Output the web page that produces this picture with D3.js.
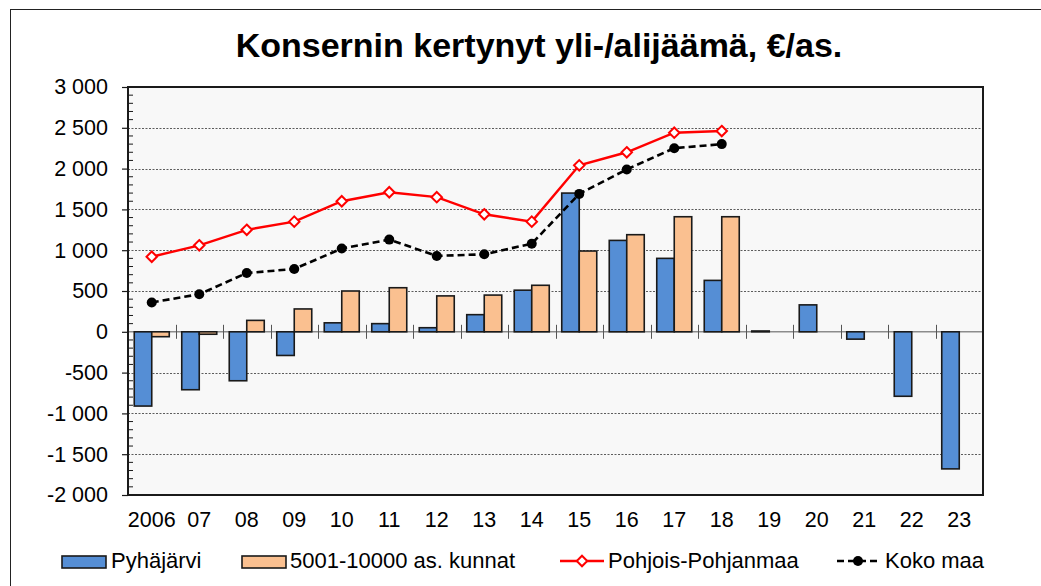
<html>
<head>
<meta charset="utf-8">
<title>Konsernin kertynyt yli-/alijäämä</title>
<script src="https://cdnjs.cloudflare.com/ajax/libs/d3/7.8.5/d3.min.js"></script>
<style>
    body { margin: 0; background: #fff; }
    text { font-family: Arial, "Liberation Sans", sans-serif; fill: #000; }
</style>
</head>
<body>
    <div id="vis_container"></div>
    <script>

        // categories and values
        var years = ["2006", "07", "08", "09", "10", "11", "12", "13", "14", "15", "16", "17", "18", "19", "20", "21", "22", "23"];
        var pyhajarvi = [-910, -710, -600, -290, 110, 100, 50, 210, 510, 1700, 1120, 900, 630, 10, 330, -90, -790, -1680];
        var kunnat = [-60, -30, 140, 280, 500, 540, 440, 450, 570, 990, 1190, 1410, 1410, null, null, null, null, null];
        var pohjois = [920, 1060, 1250, 1350, 1600, 1710, 1650, 1440, 1350, 2040, 2200, 2440, 2460];
        var kokoMaa = [360, 460, 720, 770, 1020, 1130, 930, 950, 1080, 1690, 1990, 2250, 2300];
        var yTicks = [3000, 2500, 2000, 1500, 1000, 500, 0, -500, -1000, -1500, -2000];
        var seriesNames = ["Pyhäjärvi", "5001-10000 as. kunnat", "Pohjois-Pohjanmaa", "Koko maa"];

        var width = 1041;
        var height = 586;
        var plot = {left: 128, top: 87, right: 983, bottom: 495};

        var svg = d3.select("#vis_container")
                        .append("svg")
                        .attr("width", width)
                        .attr("height", height);

        // outer chart frame
        svg.append("rect")
            .attr("x", 10.5).attr("y", 9.5)
            .attr("width", 1040).attr("height", 600)
            .attr("fill", "none")
            .attr("stroke", "#222")
            .attr("stroke-width", 1);

        svg.append("text")
            .attr("x", 539)
            .attr("y", 57)
            .attr("text-anchor", "middle")
            .style("font-size", "34px")
            .style("font-weight", "bold")
            .text("Konsernin kertynyt yli-/alijäämä, €/as.");

        var x = d3.scaleBand()
            .domain(years)
            .range([plot.left, plot.right])
            .padding(0);

        var sub = d3.scaleBand()
            .domain([0, 1])
            .range([0, x.bandwidth()])
            .paddingInner(0)
            .paddingOuter(0.357);

        var y = d3.scaleLinear()
            .domain([-2000, 3000])
            .range([plot.bottom, plot.top]);

        // plot area
        svg.append("rect")
            .attr("x", plot.left).attr("y", plot.top)
            .attr("width", plot.right - plot.left)
            .attr("height", plot.bottom - plot.top)
            .attr("fill", "#f8f8f8");

        // gridlines
        svg.append("g").selectAll("line")
            .data(yTicks.filter(function(d) { return d !== 0 && d !== 3000 && d !== -2000; }))
            .enter().append("line")
            .attr("x1", plot.left).attr("x2", plot.right)
            .attr("y1", function(d) { return Math.round(y(d)) + 0.5; })
            .attr("y2", function(d) { return Math.round(y(d)) + 0.5; })
            .attr("stroke", "#333")
            .attr("stroke-width", 0.8)
            .attr("stroke-dasharray", "2,1.5");

        // zero line
        svg.append("line")
            .attr("x1", plot.left).attr("x2", plot.right)
            .attr("y1", y(0)).attr("y2", y(0))
            .attr("stroke", "#8c8c8c")
            .attr("stroke-width", 1.5);

        // category separators on the zero line
        svg.append("g").selectAll("line")
            .data(years.slice(1))
            .enter().append("line")
            .attr("x1", function(d) { return Math.round(x(d)) + 0.5; })
            .attr("x2", function(d) { return Math.round(x(d)) + 0.5; })
            .attr("y1", y(0) - 7).attr("y2", y(0) + 7)
            .attr("stroke", "#555")
            .attr("stroke-width", 1);

        // bars
        var bars = svg.append("g");
        var barSeries = [
            {values: pyhajarvi, color: "#558ed5", i: 0},
            {values: kunnat, color: "#fac090", i: 1}
        ];
        barSeries.forEach(function(s) {
            bars.append("g").selectAll("rect")
                .data(s.values.map(function(v, k) { return {year: years[k], v: v}; })
                        .filter(function(d) { return d.v !== null; }))
                .enter().append("rect")
                .attr("x", function(d) { return x(d.year) + sub(s.i); })
                .attr("width", sub.bandwidth())
                .attr("y", function(d) { return y(Math.max(0, d.v)); })
                .attr("height", function(d) { return Math.abs(y(d.v) - y(0)); })
                .attr("fill", s.color)
                .attr("stroke", "#1a1a1a")
                .attr("stroke-width", 1.6);
        });

        // lines
        var cx = function(d, k) { return x(years[k]) + x.bandwidth() / 2; };

        var line = d3.line()
            .x(cx)
            .y(function(d) { return y(d); });

        svg.append("path")
            .datum(kokoMaa)
            .attr("d", line)
            .attr("fill", "none")
            .attr("stroke", "#000")
            .attr("stroke-width", 2.6)
            .attr("stroke-dasharray", "7,4");

        svg.append("g").selectAll("circle")
            .data(kokoMaa)
            .enter().append("circle")
            .attr("cx", cx)
            .attr("cy", function(d) { return y(d); })
            .attr("r", 5)
            .attr("fill", "#000");

        svg.append("path")
            .datum(pohjois)
            .attr("d", line)
            .attr("fill", "none")
            .attr("stroke", "#ff0000")
            .attr("stroke-width", 2.4);

        var diamond = d3.symbol().type(d3.symbolDiamond2).size(70);
        svg.append("g").selectAll("path")
            .data(pohjois)
            .enter().append("path")
            .attr("transform", function(d, k) { return "translate(" + cx(d, k) + "," + y(d) + ") rotate(0)"; })
            .attr("d", diamond)
            .attr("fill", "#fff")
            .attr("stroke", "#ff0000")
            .attr("stroke-width", 2);

        // plot border
        svg.append("rect")
            .attr("x", plot.left).attr("y", plot.top)
            .attr("width", plot.right - plot.left)
            .attr("height", plot.bottom - plot.top)
            .attr("fill", "none")
            .attr("stroke", "#1a1a1a")
            .attr("stroke-width", 2);

        // y axis: major ticks out, minor ticks in
        var yAxis = d3.axisLeft(y)
            .tickValues(yTicks)
            .tickSize(6)
            .tickPadding(14)
            .tickFormat(function(d) { return d3.format(",")(d).replace(/,/g, " ").replace("−", "-"); });

        var gy = svg.append("g")
            .attr("transform", "translate(" + plot.left + ",0)")
            .call(yAxis);
        gy.select(".domain").remove();
        gy.selectAll(".tick line").attr("stroke", "#1a1a1a").attr("stroke-width", 1.2);
        gy.selectAll(".tick text")
            .style("font-size", "21.5px")
            .style("font-family", "Arial, 'Liberation Sans', sans-serif")
            .attr("fill", "#000");

        var minorTicks = d3.range(-2000, 3001, 100).filter(function(d) { return d % 500 !== 0; });
        svg.append("g").selectAll("line")
            .data(minorTicks)
            .enter().append("line")
            .attr("x1", plot.left).attr("x2", plot.left + 5)
            .attr("y1", function(d) { return y(d); })
            .attr("y2", function(d) { return y(d); })
            .attr("stroke", "#1a1a1a")
            .attr("stroke-width", 1);

        // x labels
        var xAxis = d3.axisBottom(x).tickSize(0).tickPadding(0);
        var gx = svg.append("g")
            .attr("transform", "translate(0," + 512 + ")")
            .call(xAxis);
        gx.select(".domain").remove();
        gx.selectAll(".tick text")
            .attr("dy", "0.71em")
            .style("font-size", "21.5px")
            .style("font-family", "Arial, 'Liberation Sans', sans-serif")
            .attr("fill", "#000");

        // legend
        var legend = svg.append("g");
        var ly = 561;

        legend.append("rect")
            .attr("x", 62).attr("y", ly - 5).attr("width", 44).attr("height", 12)
            .attr("fill", "#558ed5").attr("stroke", "#1a1a1a").attr("stroke-width", 1.6);
        legend.append("text").attr("x", 111).attr("y", ly + 7)
            .style("font-size", "22px").text(seriesNames[0]);

        legend.append("rect")
            .attr("x", 242).attr("y", ly - 5).attr("width", 44).attr("height", 12)
            .attr("fill", "#fac090").attr("stroke", "#1a1a1a").attr("stroke-width", 1.6);
        legend.append("text").attr("x", 290).attr("y", ly + 7)
            .style("font-size", "22px").text(seriesNames[1]);

        legend.append("line")
            .attr("x1", 560).attr("x2", 604).attr("y1", ly).attr("y2", ly)
            .attr("stroke", "#ff0000").attr("stroke-width", 2.4);
        legend.append("path")
            .attr("transform", "translate(582," + ly + ")")
            .attr("d", diamond)
            .attr("fill", "#fff").attr("stroke", "#ff0000").attr("stroke-width", 2);
        legend.append("text").attr("x", 608).attr("y", ly + 7)
            .style("font-size", "22px").text(seriesNames[2]);

        legend.append("line")
            .attr("x1", 837).attr("x2", 880).attr("y1", ly).attr("y2", ly)
            .attr("stroke", "#000").attr("stroke-width", 2.6).attr("stroke-dasharray", "7,4");
        legend.append("circle")
            .attr("cx", 858).attr("cy", ly).attr("r", 5).attr("fill", "#000");
        legend.append("text").attr("x", 885).attr("y", ly + 7)
            .style("font-size", "22px").text(seriesNames[3]);

    </script>
</body>
</html>
